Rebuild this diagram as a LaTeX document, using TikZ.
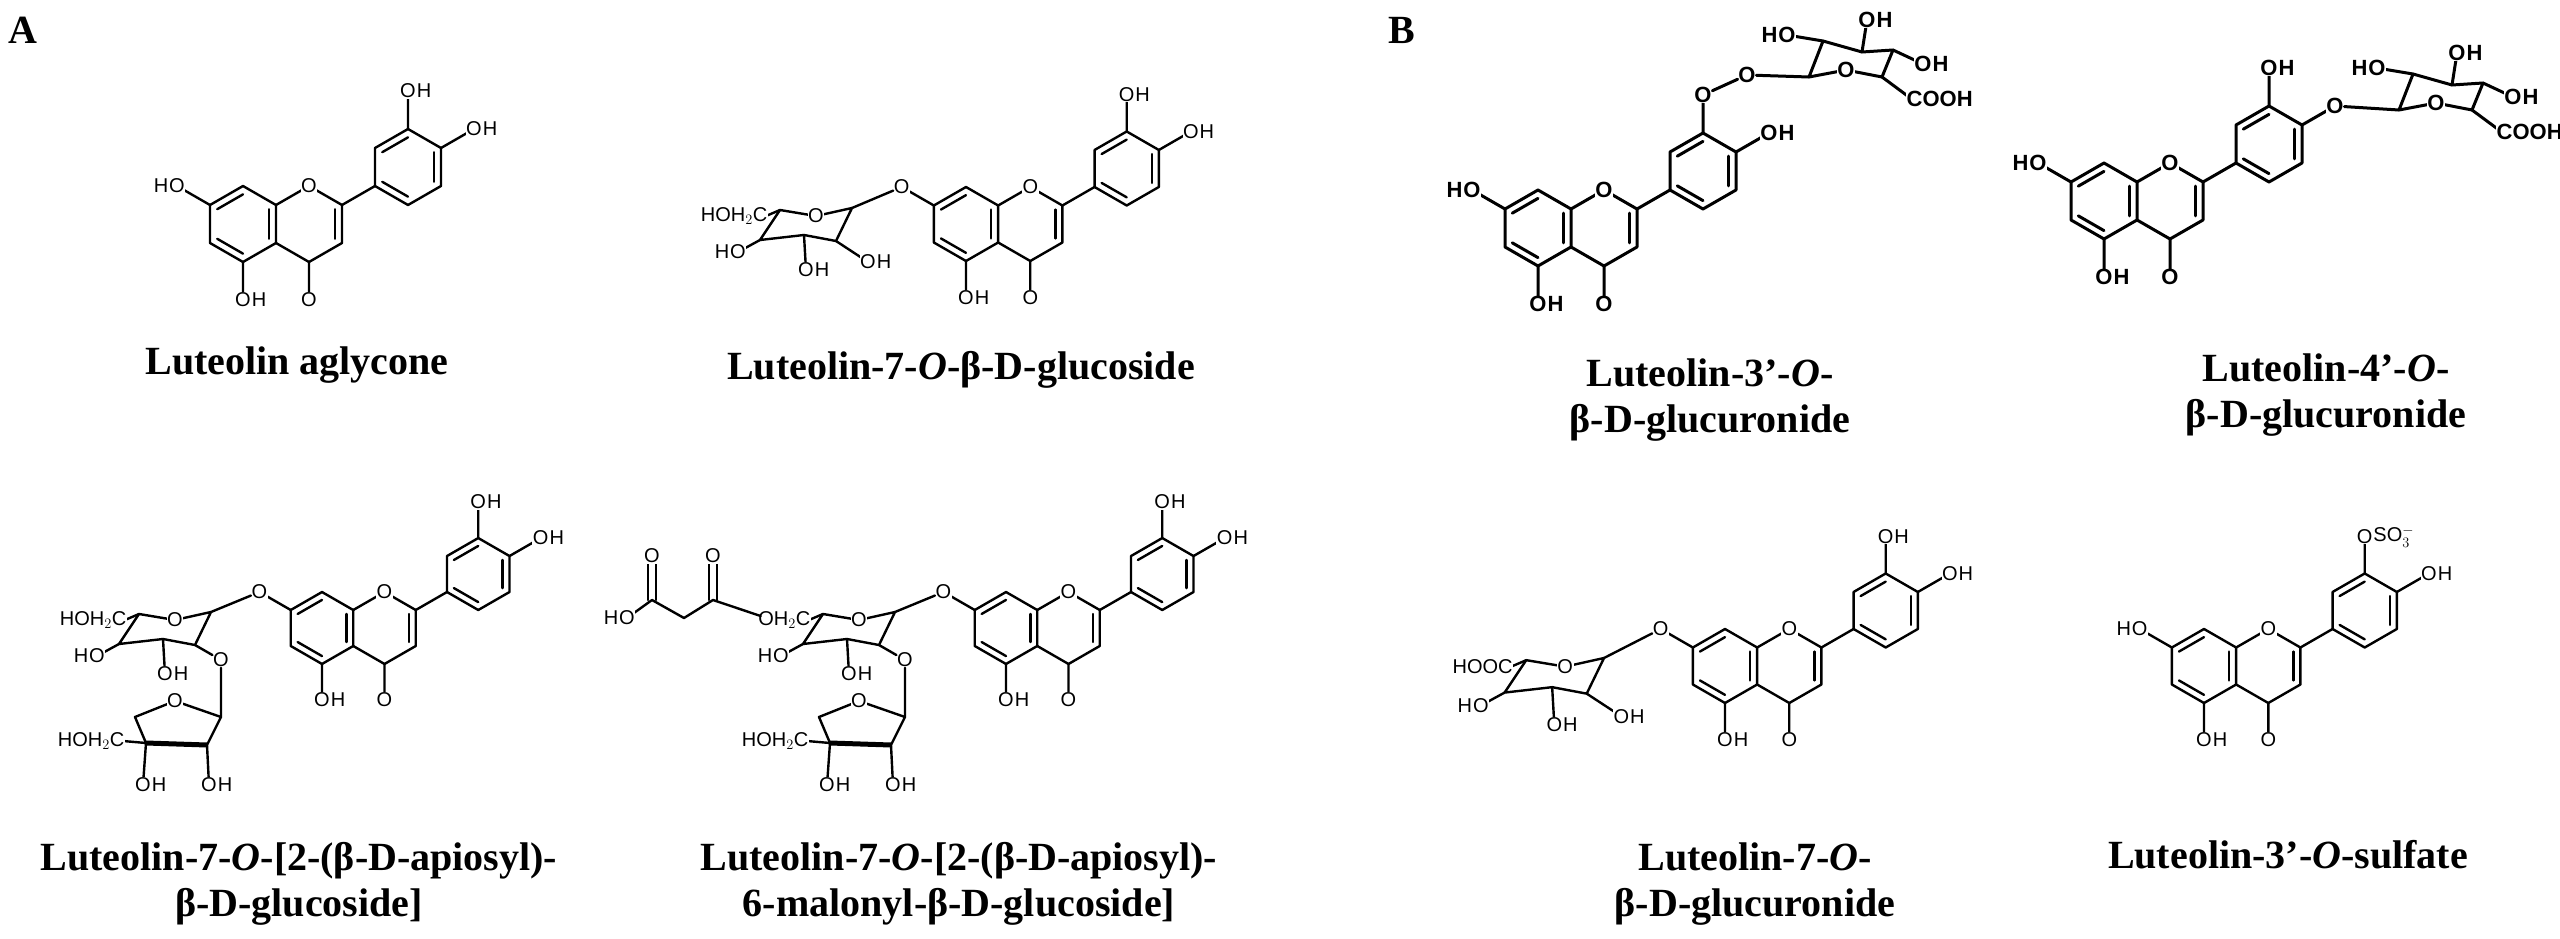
\documentclass[tikz,border=0pt]{standalone}
\usepackage{fontspec}
\setmainfont{Liberation Serif}
\setsansfont{Liberation Sans}
\usetikzlibrary{calc}
\newcommand\atf{\fontsize{20}{20}\selectfont\sffamily}
\tikzset{
  bond/.style={line width=2.4pt, line cap=round, line join=round},
  atm/.style={fill=white, inner sep=0.6pt, font=\atf},
  lbl/.style={font=\fontsize{40}{46}\selectfont\bfseries, align=center},
}
\newcommand\Oat[2]{\node[atm] (#1) at (#2) {O};}
\newcommand\OH[2]{\node[atm] (#1) at (#2) {O}; \node[atm, inner sep=0pt, anchor=west] at (#1.east) {H};}
\newcommand\HO[2]{\node[atm] (#1) at (#2) {O}; \node[atm, inner sep=0pt, anchor=east] at (#1.west) {H};}
\newcommand\dbl[3]{\draw[bond] ($(#1)!0.22!(#3)$) -- ($(#2)!0.22!(#3)$);}
% flavone core, origin = centre of ring A
\newcommand\flav[1]{%
  \coordinate (#1c8) at (0,-38); \coordinate (#1c8a) at (33,-19);
  \coordinate (#1c4a) at (33,19); \coordinate (#1c5) at (0,38);
  \coordinate (#1c6) at (-33,19); \coordinate (#1c7) at (-33,-19);
  \coordinate (#1o1) at (66,-38); \coordinate (#1c2) at (99,-19);
  \coordinate (#1c3) at (99,19); \coordinate (#1c4) at (66,38);
  \coordinate (#1b1) at (132,-38); \coordinate (#1b2) at (132,-76);
  \coordinate (#1b3) at (165,-95); \coordinate (#1b4) at (198,-76);
  \coordinate (#1b5) at (198,-38); \coordinate (#1b6) at (165,-19);
  \coordinate (#1zA) at (0,0); \coordinate (#1zC) at (66,0); \coordinate (#1zB) at (165,-57);
  \coordinate (#1s7) at (-66,-38); \coordinate (#1s5) at (0,76);
  \coordinate (#1s4) at (66,76); \coordinate (#1s3b) at (165,-133);
  \coordinate (#1s4b) at (231,-95);
  \draw[bond] (#1c7)--(#1c8)--(#1c8a)--(#1c4a)--(#1c5)--(#1c6)--cycle;
  \draw[bond] (#1c8a)--(#1o1)--(#1c2)--(#1c3)--(#1c4)--(#1c4a);
  \draw[bond] (#1b1)--(#1b2)--(#1b3)--(#1b4)--(#1b5)--(#1b6)--cycle;
  \draw[bond] (#1c2)--(#1b1) (#1c5)--(#1s5) (#1c4)--(#1s4) (#1c7)--(#1s7)
              (#1b3)--(#1s3b) (#1b4)--(#1s4b);
  \dbl{#1c7}{#1c8}{#1zA}\dbl{#1c5}{#1c6}{#1zA}\dbl{#1c8a}{#1c4a}{#1zA}
  \dbl{#1c2}{#1c3}{#1zC}
  \dbl{#1b2}{#1b3}{#1zB}\dbl{#1b4}{#1b5}{#1zB}\dbl{#1b6}{#1b1}{#1zB}
  \Oat{#1O1}{#1o1}\OH{#1O5}{#1s5}\Oat{#1O4}{#1s4}%
}
% pyranose attached through C1 (origin)
\newcommand\pyr[2]{%
  \coordinate (#1c1) at (0,0); \coordinate (#1o) at (-36,8);
  \coordinate (#1c5) at (-72,2); \coordinate (#1c4) at (-92,32);
  \coordinate (#1c3) at (-48,27); \coordinate (#1c2) at (-16,33);
  \draw[bond] (#1c1)--(#1o)--(#1c5)--(#1c4)--(#1c3)--(#1c2)--cycle;
  \draw[bond] (#1c5)--(-86,8) (#1c4)--(-114,44) (#1c3)--(-46,62);
  \node[atm, anchor=east, inner sep=0.5pt] (#1C6) at (-84,8) {#2};
  \HO{#1O4}{-114,44}\OH{#1O3}{-46,62}\Oat{#1O}{#1o}%
}
% glucuronide, origin = C1
\newcommand\gluc[1]{%
  \coordinate (#1c1) at (0,0); \coordinate (#1o) at (37,-7);
  \coordinate (#1c5) at (73,0); \coordinate (#1c4) at (84,-27);
  \coordinate (#1c3) at (53,-25); \coordinate (#1c2) at (14,-36);
  \draw[bond] (#1c1)--(#1o)--(#1c5)--(#1c4)--(#1c3)--(#1c2)--cycle;
  \draw[bond] (#1c5)--(100,20) (#1c4)--(114,-13) (#1c3)--(58,-57) (#1c2)--(-22,-42);
  \node[atm, anchor=west, inner sep=0.5pt] (#1COOH) at (97,22) {COOH};
  \OH{#1O4}{114,-13}\OH{#1O3}{58,-57}\HO{#1O2}{-22,-42}\Oat{#1O}{#1o}%
}
% apiose, origin = C1
\newcommand\api[1]{%
  \coordinate (#1c1) at (0,0); \coordinate (#1o) at (-46,-16);
  \coordinate (#1c4) at (-86,0); \coordinate (#1c3) at (-75,26);
  \coordinate (#1c2) at (-14,28);
  \draw[bond] (#1c1)--(#1o)--(#1c4)--(#1c3) (#1c2)--(#1c1);
  \draw[line width=5pt] (#1c3)--(#1c2);
  \draw[bond] (#1c3)--(-98,24) (#1c3)--(-78,68) (#1c2)--(-12,68);
  \node[atm, anchor=east, inner sep=0.5pt] (#1C5) at (-96,24) {HOH$_2$C};
  \OH{#1O3}{-78,68}\OH{#1O2}{-12,68}\Oat{#1O}{#1o}%
}
\begin{document}
\begin{tikzpicture}[x=1pt,y=-1pt]
\useasboundingbox (0,0) rectangle (2560,939);
\fill[white] (0,0) rectangle (2560,939);
\node[lbl, anchor=west] (pA) at (5,30) {A};
\node[lbl, anchor=west] (pB) at (1385,30) {B};

% 1 aglycone
\begin{scope}[shift={(243,224)}]
  \flav{a}\HO{aO7}{as7}\OH{aO3}{as3b}\OH{aO4b}{as4b}
\end{scope}
\node[lbl] (la) at (297,365) {Luteolin aglycone};

% 2 glucoside
\begin{scope}[shift={(966,224)}, scale=0.974]
  \flav{g}\Oat{gO7}{gs7}\OH{gO3}{gs3b}\OH{gO4b}{gs4b}
\end{scope}
\begin{scope}[shift={(852,208)}]
  \pyr{gq}{HOH$_2$C}
  \draw[bond] (gqc2)--(16,54); \OH{gqO2}{16,54}
\end{scope}
\draw[bond] (gO7)--(gqc1);
\node[lbl] (lg) at (961,370) {Luteolin-7-\textit{O}-β-D-glucoside};

% 3 apiosyl glucoside
\begin{scope}[shift={(322,628)}, scale=0.947]
  \flav{c}\Oat{cO7}{cs7}\OH{cO3}{cs3b}\OH{cO4b}{cs4b}
\end{scope}
\begin{scope}[shift={(211,612)}]
  \pyr{cq}{HOH$_2$C}
  \Oat{cqO2}{10,48}
\end{scope}
\begin{scope}[shift={(221,717)}]
  \api{ca}
\end{scope}
\draw[bond] (cO7)--(cqc1) (cqc2)--(cqO2) (cqO2)--(cac1);
\node[lbl] (lc) at (299,884) {Luteolin-7-\textit{O}-[2-(β-D-apiosyl)-\\β-D-glucoside]};

% 4 malonyl apiosyl glucoside
\begin{scope}[shift={(1006,628)}, scale=0.947]
  \flav{d}\Oat{dO7}{ds7}\OH{dO3}{ds3b}\OH{dO4b}{ds4b}
\end{scope}
\begin{scope}[shift={(895,612)}]
  \pyr{dq}{OH$_2$C}
  \Oat{dqO2}{10,48}
\end{scope}
\begin{scope}[shift={(905,717)}]
  \api{da}
\end{scope}
\draw[bond] (dO7)--(dqc1) (dqc2)--(dqO2) (dqO2)--(dac1);
\coordinate (m2) at (713,600); \coordinate (mh) at (684,618); \coordinate (m1) at (652,600);
\coordinate (m2o) at (713,556); \coordinate (m1o) at (652,556);
\draw[bond] ($(dqC6.west)+(3,-4)$)--(m2)--(mh)--(m1)--(627,618);
\draw[bond] ($(m2)+(-4,0)$)--($(m2o)+(-4,0)$) ($(m2)+(4,0)$)--($(m2o)+(4,0)$);
\draw[bond] ($(m1)+(-4,0)$)--($(m1o)+(-4,0)$) ($(m1)+(4,0)$)--($(m1o)+(4,0)$);
\Oat{mO2}{m2o}\Oat{mO1}{m1o}\HO{mOH}{627,618}
\node[lbl] (ld) at (959,884) {Luteolin-7-\textit{O}-[2-(β-D-apiosyl)-\\6-malonyl-β-D-glucoside]};

% 5 3'-glucuronide
\begin{scope}[font=\bfseries]
\renewcommand\atf{\fontsize{22}{22}\selectfont\sffamily\bfseries}
\tikzset{bond/.style={line width=3pt, line cap=round, line join=round}}
\begin{scope}[shift={(1538,228)}]
  \flav{e}\HO{eO7}{es7}\Oat{eO3}{es3b}\OH{eO4b}{es4b}
\end{scope}
\Oat{eOx}{1747,75}
\begin{scope}[shift={(1809,77)}]
  \gluc{eu}
\end{scope}
\draw[bond] (eO3)--(eOx) (eOx)--(euc1);

% 6 4'-glucuronide
\begin{scope}[shift={(2104,201)}]
  \flav{f}\HO{fO7}{fs7}\OH{fO3}{fs3b}\Oat{fO4b}{fs4b}
\end{scope}
\begin{scope}[shift={(2399,110)}]
  \gluc{fu}
\end{scope}
\draw[bond] (fO4b)--(fuc1);
\end{scope}
\node[lbl] (le) at (1710,400) {Luteolin-3’-\textit{O}-\\β-D-glucuronide};
\node[lbl] (lf) at (2326,395) {Luteolin-4’-\textit{O}-\\β-D-glucuronide};

% 7 7-glucuronide
\begin{scope}[shift={(1725,666)}, scale=0.974]
  \flav{h}\Oat{hO7}{hs7}\OH{hO3}{hs3b}\OH{hO4b}{hs4b}
\end{scope}
\begin{scope}[shift={(1604,658)}, scale=1.08]
  \pyr{hq}{HOOC}
  \draw[bond] (hqc2)--(16,54); \OH{hqO2}{16,54}
\end{scope}
\draw[bond] (hO7)--(hqc1);
\node[lbl] (lh) at (1755,884) {Luteolin-7-\textit{O}-\\β-D-glucuronide};

% 8 3'-sulfate
\begin{scope}[shift={(2204,666)}, scale=0.974]
  \flav{k}\HO{kO7}{ks7}\OH{kO4b}{ks4b}
  \Oat{kO3}{ks3b}
  \node[atm, inner sep=0pt, anchor=west] (kS) at (kO3.east) {SO$_3^-$};
\end{scope}
\node[lbl] (lk) at (2288,855) {Luteolin-3’-\textit{O}-sulfate};
\end{tikzpicture}
\end{document}
